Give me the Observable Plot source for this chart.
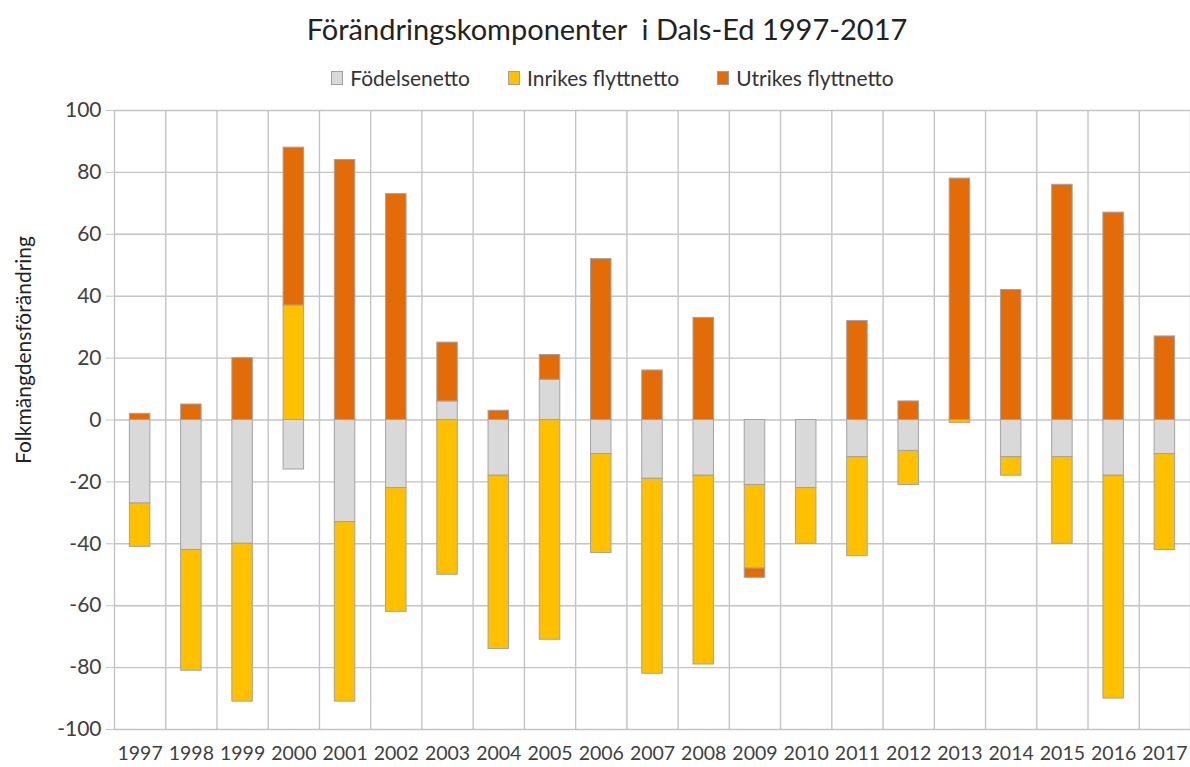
<!DOCTYPE html>
<html><head><meta charset="utf-8">
<script src="https://cdn.jsdelivr.net/npm/d3@7"></script>
<script src="https://cdn.jsdelivr.net/npm/@observablehq/plot@0.6"></script>
<style>
body{margin:0;background:#fff;font-family:Lato,sans-serif;}
#wrap{position:relative;width:1190px;height:767px;overflow:hidden;background:#fff}
#head{position:relative;height:95px}
#title{position:absolute;left:0;width:1190px;top:11px;text-align:center;font-size:29px;color:#222;padding-left:24px;box-sizing:border-box;white-space:pre}
#legend{position:absolute;top:65px;left:0;width:1190px;display:flex;justify-content:center;gap:38px;font-size:21px;color:#333;padding-left:35px;box-sizing:border-box}
.item{display:flex;align-items:center;gap:7px}
.sw{width:10px;height:12px;border:1px solid #a0a0a0}
</style></head>
<body><div id="wrap"><div id="head"><div id="title"></div><div id="legend"></div></div><div id="chart"></div></div>
<script>
const title = "Förändringskomponenter  i Dals-Ed 1997-2017";
const yLabel = "Folkmängdensförändring";
const years = [1997,1998,1999,2000,2001,2002,2003,2004,2005,2006,2007,2008,2009,2010,2011,2012,2013,2014,2015,2016,2017];
const series = ["Födelsenetto","Inrikes flyttnetto","Utrikes flyttnetto"];
const colors = ["#d9d9d9","#ffc000","#e36c09"];
const fodelsenetto = [-27,-42,-40,-16,-33,-22,6,-18,13,-11,-19,-18,-21,-22,-12,-10,0,-12,-12,-18,-11];
const inrikes = [-14,-39,-51,37,-58,-40,-50,-56,-71,-32,-63,-61,-27,-18,-32,-11,-1,-6,-28,-72,-31];
const utrikes = [2,5,20,51,84,73,19,3,8,52,16,33,-3,0,32,6,78,42,76,67,27];
const yTicks = [-100,-80,-60,-40,-20,0,20,40,60,80,100];

const values = [fodelsenetto, inrikes, utrikes];
const rows = [];
years.forEach((yr, i) => series.forEach((s, j) => {
  if (values[j][i] !== 0) rows.push({year: yr, series: s, value: values[j][i]});
}));
const boundaries = years.map(y => y - 0.5).concat([years[years.length - 1] + 0.5]);

document.getElementById("title").textContent = title;
const leg = document.getElementById("legend");
series.forEach((s, j) => {
  const it = document.createElement("div"); it.className = "item";
  const sw = document.createElement("span"); sw.className = "sw"; sw.style.background = colors[j];
  const tx = document.createElement("span"); tx.textContent = s;
  it.append(sw, tx); leg.append(it);
});

const plot = Plot.plot({
  width: 1190, height: 672,
  marginLeft: 114, marginRight: 0, marginTop: 15, marginBottom: 38,
  style: {fontFamily: "Lato, sans-serif", color: "#404040", background: "#fff", overflow: "visible"},
  x: {type: "linear", domain: [years[0] - 0.5, years[years.length - 1] + 0.5]},
  y: {domain: [-100, 100]},
  color: {domain: series, range: colors},
  marks: [
    Plot.ruleY(yTicks, {stroke: "#c4c4c4", strokeWidth: 1.4}),
    Plot.ruleX(boundaries, {stroke: "#c4c4c4", strokeWidth: 1.4}),
    Plot.rectY(rows, Plot.stackY({x1: d => d.year - 0.2, x2: d => d.year + 0.2, y: "value", fill: "series", stroke: "#a3a3a3", strokeWidth: 1})),
    Plot.axisY({ticks: yTicks, tickFormat: d => String(d), tickSize: 8, stroke: "#c4c4c4", fill: "#404040", fontSize: 21, tickPadding: 5, label: null}),
    Plot.axisX({ticks: years, tickFormat: d => String(d), tickSize: 0, tickPadding: 17, fontSize: 19.5, fill: "#404040", label: null}),
    Plot.text([yLabel], {frameAnchor: "left", textAnchor: "middle", rotate: -90, dx: -90, dy: -70, fontSize: 21, fill: "#222"})
  ]
});
document.getElementById("chart").append(plot);
</script>
</body></html>
